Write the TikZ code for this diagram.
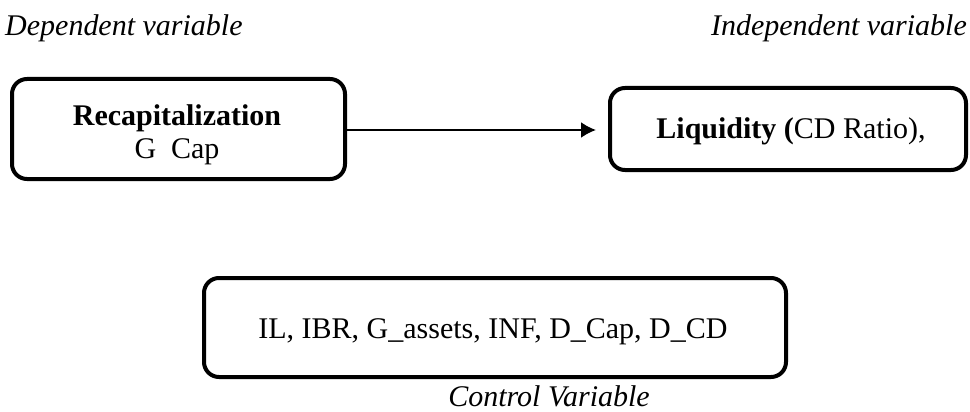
\documentclass[tikz,border=0pt]{standalone}
\usepackage{fontspec}
\setmainfont{Liberation Serif}
\usetikzlibrary{arrows.meta}
\begin{document}
\begin{tikzpicture}[x=1pt,y=-1pt,
  varbox/.style={draw, line width=4pt, rounded corners=15pt},
  heading/.style={font=\fontsize{30}{34}\selectfont\itshape, inner sep=0pt},
  boxtext/.style={font=\fontsize{30}{33}\selectfont, inner sep=0pt}]
  \useasboundingbox (0,0) rectangle (970,412);
  % column headings
  \node[heading, anchor=base west] (dephead) at (5,36) {Dependent variable};
  \node[heading, anchor=base east] (indhead) at (967,36) {Independent variable};
  % dependent variable box
  \draw[varbox] (12,79) rectangle (345,179);
  \node[boxtext, anchor=base] (recap) at (177,125) {\textbf{Recapitalization}};
  \node[boxtext, anchor=base] (gcap) at (177,158) {G\ \ Cap};
  \coordinate (recapE) at (345,130);
  % independent variable box
  \draw[varbox] (610,88) rectangle (966,170);
  \node[boxtext, anchor=base] (liq) at (791,138) {\textbf{Liquidity (}CD Ratio),};
  \coordinate (liqW) at (610,130);
  % control variables box
  \draw[varbox] (204,278) rectangle (786,377);
  \node[boxtext, anchor=base] (ctrl) at (493,338) {IL, IBR, G\_assets, INF, D\_Cap, D\_CD};
  \node[heading, anchor=base] (ctrlhead) at (549,406) {Control Variable};
  % causal arrow
  \draw[line width=2pt, -{Latex[length=15pt,width=16pt]}] (recapE) -- ([xshift=-14pt]liqW);
\end{tikzpicture}
\end{document}
